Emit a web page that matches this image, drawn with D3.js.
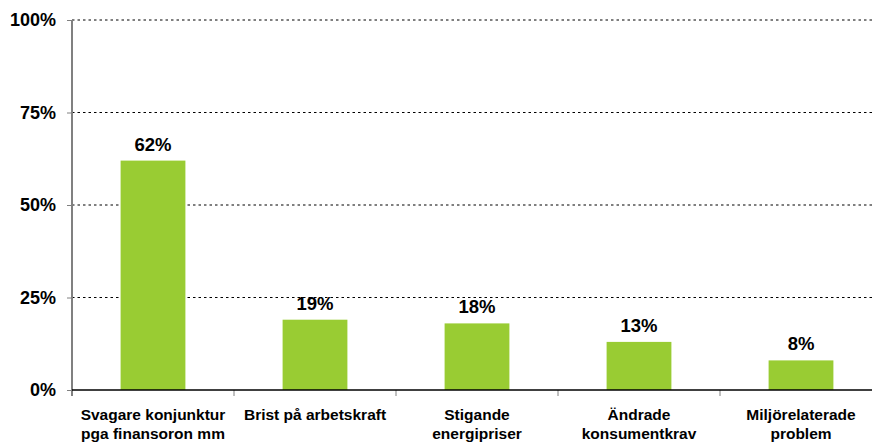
<!DOCTYPE html>
<html>
<head>
<meta charset="utf-8">
<script src="https://cdnjs.cloudflare.com/ajax/libs/d3/7.8.5/d3.min.js"></script>
<style>
  body { margin: 0; background: #fff; }
  svg { display: block; font-family: "Liberation Sans", Arial, sans-serif; font-weight: bold; }
</style>
</head>
<body>
<div id="chart"></div>
<script>
// data
var categories = [
    ["Svagare konjunktur", "pga finansoron mm"],
    ["Brist på arbetskraft"],
    ["Stigande", "energipriser"],
    ["Ändrade", "konsumentkrav"],
    ["Miljörelaterade", "problem"]
];
var values = [62, 19, 18, 13, 8];
var yTicks = [0, 25, 50, 75, 100];

var W = 872, H = 443;
var margin = { top: 20, left: 72 };
var plotW = 810, plotH = 370;

var svg = d3.select("#chart").append("svg")
    .attr('width', W)
    .attr('height', H);

var g = svg.append("g")
    .attr("transform", "translate(" + margin.left + "," + margin.top + ")");

var keys = categories.map(function(c, i) { return i; });

var x = d3.scaleBand()
    .domain(keys)
    .range([0, plotW])
    .paddingInner(0.6)
    .paddingOuter(0.3);

var y = d3.scaleLinear()
    .domain([0, 100])
    .range([plotH, 0]);

// dotted gridlines
g.selectAll("line.grid")
    .data(yTicks.filter(function(d) { return d > 0; }))
    .enter().append("line")
    .attr('class', 'grid')
    .attr('x1', 0)
    .attr('x2', plotW)
    .attr('y1', function(d) { return y(d); })
    .attr('y2', function(d) { return y(d); })
    .attr('stroke', '#000')
    .attr('stroke-width', 1)
    .attr('stroke-dasharray', '2.5,3');

// bars
g.selectAll("rect.bar")
    .data(values)
    .enter().append("rect")
    .attr('class', 'bar')
    .attr('x', function(d, i) { return x(i); })
    .attr('y', function(d) { return y(d); })
    .attr('width', x.bandwidth())
    .attr('height', function(d) { return plotH - y(d); })
    .attr('fill', '#99CC33');

// value labels
g.selectAll("text.val")
    .data(values)
    .enter().append("text")
    .attr('class', 'val')
    .attr('x', function(d, i) { return x(i) + x.bandwidth() / 2; })
    .attr('y', function(d) { return y(d) - 10; })
    .attr('text-anchor', 'middle')
    .style('font-size', '18.5px')
    .text(function(d) { return d + "%"; });

// y axis
var yAxis = g.append("g")
    .call(d3.axisLeft(y)
        .tickValues(yTicks)
        .tickFormat(function(d) { return d + "%"; })
        .tickSize(5)
        .tickPadding(11));
yAxis.select(".domain").remove();
yAxis.selectAll(".tick line").attr('stroke', '#808080');
yAxis.selectAll(".tick text")
    .attr('fill', '#000')
    .style('font-size', '18px')
    .style('font-family', '"Liberation Sans", Arial, sans-serif')
    .style('font-weight', 'bold');

g.append("line")
    .attr('x1', 0).attr('x2', 0)
    .attr('y1', 0).attr('y2', plotH + 6)
    .attr('stroke', '#808080')
    .attr('stroke-width', 2);

// x axis, ticks between categories
var bounds = keys.concat([keys.length]).map(function(i) { return i * plotW / keys.length; });
g.selectAll("line.xtick")
    .data(bounds)
    .enter().append("line")
    .attr('class', 'xtick')
    .attr('x1', function(d) { return d; })
    .attr('x2', function(d) { return d; })
    .attr('y1', plotH)
    .attr('y2', plotH + 6)
    .attr('stroke', '#808080');

g.append("line")
    .attr('x1', 0).attr('x2', plotW)
    .attr('y1', plotH).attr('y2', plotH)
    .attr('stroke', '#000')
    .attr('stroke-width', 1.5);

// category labels
var cat = g.selectAll("text.cat")
    .data(categories)
    .enter().append("text")
    .attr('class', 'cat')
    .attr('text-anchor', 'middle')
    .style('font-size', '15.5px')
    .attr('transform', function(d, i) {
        return "translate(" + (x(i) + x.bandwidth() / 2) + "," + (plotH + 30) + ")";
    });

cat.selectAll("tspan")
    .data(function(d) { return d; })
    .enter().append("tspan")
    .attr('x', 0)
    .attr('y', function(d, i) { return i * 18.5; })
    .text(function(d) { return d; });
</script>
</body>
</html>
